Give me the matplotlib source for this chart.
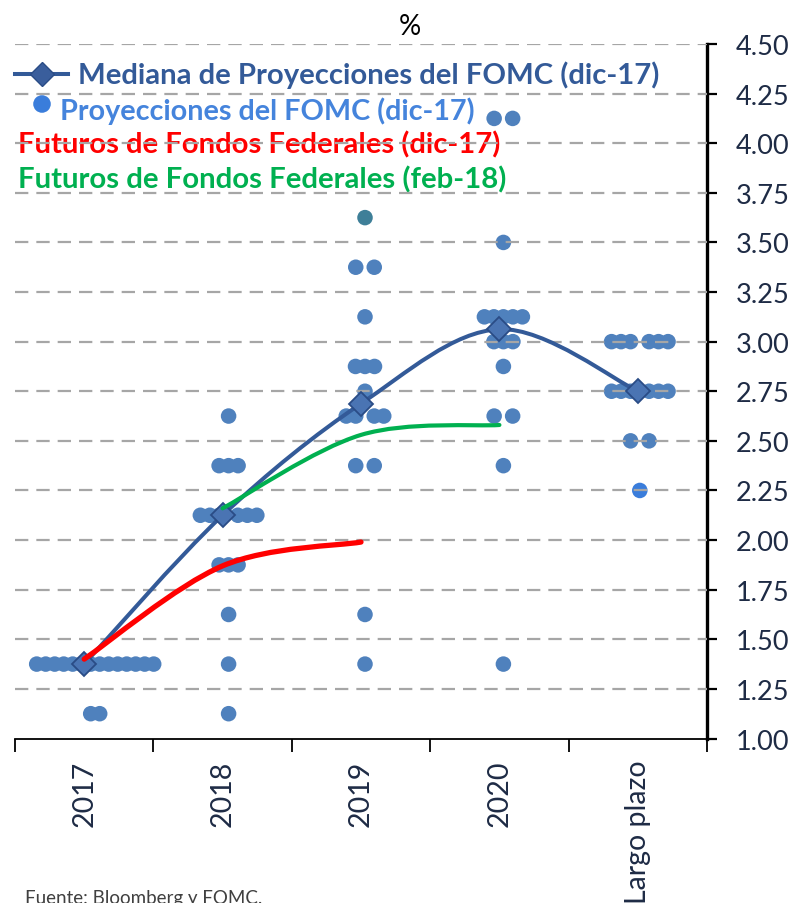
import numpy as np
import matplotlib
matplotlib.use("Agg")
import matplotlib.pyplot as plt
from matplotlib.path import Path
from matplotlib.patches import PathPatch
from matplotlib.lines import Line2D

# ---------------- data ----------------
categories = ["2017", "2018", "2019", "2020", "Largo plazo"]

# FOMC individual projections (level, number of participants)
dots_2017 = [(1.375, 14), (1.125, 2)]
dots_2018 = [(2.625, 1), (2.375, 3), (2.125, 6), (1.875, 3), (1.625, 1), (1.375, 1), (1.125, 1)]
dots_2019 = [(3.625, 1), (3.375, 2), (3.125, 1), (2.875, 3), (2.75, 1), (2.625, 4),
             (2.375, 2), (1.625, 1), (1.375, 1)]
dots_2020 = [(4.125, 2), (3.5, 1), (3.125, 5), (3.0, 3), (2.875, 1), (2.625, 2),
             (2.375, 1), (1.375, 1)]
dots_lp = [(3.0, 6), (2.75, 6), (2.5, 2), (2.25, 1)]
dots_all = [dots_2017, dots_2018, dots_2019, dots_2020, dots_lp]

median = [1.375, 2.125, 2.6875, 3.0625, 2.75]          # 2017..Largo plazo
futures_dec17 = [1.40, 1.87, 1.99]                     # 2017..2019
futures_feb18 = [2.16, 2.53, 2.58]                     # 2018..2020

yticks = np.arange(1.0, 4.5001, 0.25)

# ---------------- style / layout ----------------
W, H = 796, 904
FONT = "Lato"
plt.rcParams["font.family"] = [FONT, "DejaVu Sans"]
C_MED = "#335a98"
C_DOT = "#4f81bd"
C_TXT = "#1e2b45"

fig = plt.figure(figsize=(W / 100, H / 100), dpi=100)
ax_l, ax_r, ax_t, ax_b = 15, 707, 45, 739.5
ax = fig.add_axes([ax_l / W, 1 - ax_b / H, (ax_r - ax_l) / W, (ax_b - ax_t) / H])
ax.set_xlim(-0.5, 4.5)
ax.set_ylim(1.0, 4.5)
px = 5 / (ax_r - ax_l)   # category units per pixel

for s in ["top", "left"]:
    ax.spines[s].set_visible(False)
ax.spines["right"].set_linewidth(2.4)
ax.spines["bottom"].set_linewidth(1.3)

ax.yaxis.tick_right()
ax.set_yticks(yticks)
ax.set_yticklabels([f"{v:.2f}" for v in yticks])
ax.tick_params(axis="y", direction="out", length=7, width=1.6, pad=14,
               labelsize=19.5, labelcolor=C_TXT)

ax.set_xticks(np.arange(-0.5, 4.6, 1.0))
ax.set_xticklabels([])
ax.tick_params(axis="x", which="major", direction="out", length=9, width=1.3)
ax.set_xticks(np.arange(len(categories)), minor=True)
ax.set_xticklabels(categories, minor=True, rotation=90, fontsize=20.5, color=C_TXT)
ax.tick_params(axis="x", which="minor", length=0, pad=15)

# dashed gridlines (drawn above the dots)
for v in yticks[1:]:
    ax.axhline(v, color="#a6a6a6", lw=1.6, ls=(0, (6, 3.6)), zorder=3)

# ---------------- dots ----------------
center_off_px = [11, 6, 4, 4, 2]
spacing_px = [9.0, 9.5, 9.5, 9.5, 9.5]
gap_px = [0, 9, 9, 9, 9]
special = {(2, 3.625): "#3e7f98", (4, 2.25): "#3a7ddb"}


def offsets(n, s, g):
    if n % 2:
        return [(i - (n - 1) / 2) * s for i in range(n)]
    half = [(j - 0.5) * s + g / 2 for j in range(1, n // 2 + 1)]
    return sorted([-h for h in half] + half)


for ci, rows in enumerate(dots_all):
    for level, n in rows:
        xs = [ci + (center_off_px[ci] + o) * px for o in offsets(n, spacing_px[ci], gap_px[ci])]
        col = special.get((ci, level), C_DOT)
        ax.scatter(xs, [level] * n, s=125, color=col, edgecolors="none", zorder=2)


# ---------------- smoothed lines ----------------
def smooth_path(xs, ys):
    P = np.column_stack([xs, ys]).astype(float)
    n = len(P)
    verts = [P[0]]
    codes = [Path.MOVETO]
    for i in range(n - 1):
        p0 = P[i - 1] if i > 0 else P[i]
        p3 = P[i + 2] if i + 2 < n else P[i + 1]
        c1 = P[i] + (P[i + 1] - p0) / 6
        c2 = P[i + 1] - (p3 - P[i]) / 6
        verts += [c1, c2, P[i + 1]]
        codes += [Path.CURVE4] * 3
    return Path(verts, codes)


ax.add_patch(PathPatch(smooth_path(range(5), median), fill=False, ec=C_MED, lw=2.9,
                       zorder=4, capstyle="round", joinstyle="round"))
ax.plot(range(5), median, ls="none", marker="D", ms=12, mfc="#4a74b3", mec="#2a4c86",
        mew=1.3, zorder=5)
ax.add_patch(PathPatch(smooth_path(range(0, 3), futures_dec17), fill=False, ec="#ff0000",
                       lw=3.8, zorder=6, capstyle="round"))
ax.add_patch(PathPatch(smooth_path(range(1, 4), futures_feb18), fill=False, ec="#00b050",
                       lw=3.0, zorder=6, capstyle="round"))

# ---------------- legend (manual) ----------------
tf = fig.transFigure
ax.add_line(Line2D([15 / W, 68 / W], [1 - 75 / H] * 2, transform=tf, color=C_MED, lw=2.9,
                   clip_on=False, zorder=5))
ax.add_line(Line2D([42 / W], [1 - 75 / H], transform=tf, ls="none", marker="D", ms=12,
                   mfc="#3a5e9c", mec="#2a4c86", clip_on=False, zorder=5))
ax.scatter([42 / W], [1 - 105 / H], transform=tf, s=160, color="#3a7ddb",
           edgecolors="none", clip_on=False, zorder=5)

leg = [
    ("Mediana de Proyecciones del FOMC (dic-17)", 78, 660, 75, C_MED),
    ("Proyecciones del FOMC (dic-17)", 60, 475, 111, "#4584dc"),
    ("Futuros de Fondos Federales (dic-17)", 18, 502, 145, "#ff0000"),
    ("Futuros de Fondos Federales (feb-18)", 18, 508, 180, "#00b050"),
]
texts = []
for label, x0, x1, yc, col in leg:
    t = ax.text(x0 / W, 1 - yc / H, label, transform=tf, fontsize=18, fontweight="bold",
                color=col, ha="left", va="center", zorder=2.5)
    texts.append((t, x1 - x0))

fig.text(410 / W, 1 - 27 / H, "%", fontsize=20, ha="center", va="center", color="black")
ax.text(25 / W, 1 - 890 / H, "Fuente: Bloomberg y FOMC.", transform=tf, fontsize=13.5,
        va="top", ha="left", color="#404040")

fig.canvas.draw()
r = fig.canvas.get_renderer()
for t, target in texts:
    w = t.get_window_extent(r).width
    t.set_fontsize(t.get_fontsize() * target / w)

fig.savefig("out.png", dpi=100)
